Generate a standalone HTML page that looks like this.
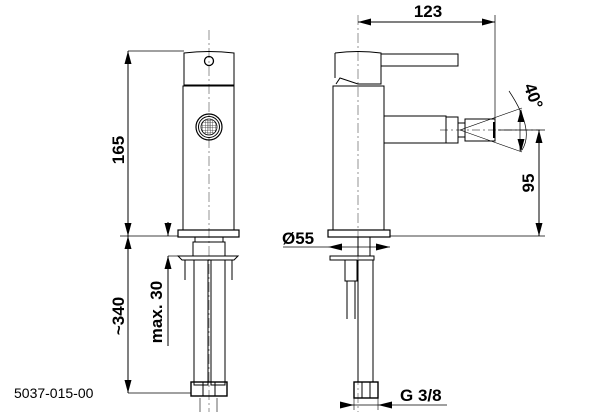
<!DOCTYPE html>
<html><head><meta charset="utf-8"><style>html,body{margin:0;padding:0;background:#fff}svg{display:block}</style></head>
<body>
<svg width="614" height="415" viewBox="0 0 614 415" xmlns="http://www.w3.org/2000/svg" font-family="Liberation Sans, sans-serif">
<defs>
<pattern id="g" width="2.5" height="2.5" patternUnits="userSpaceOnUse"><path d="M0 0H2.5M0 0V2.5" stroke="#333" stroke-width="0.8" fill="none"/></pattern>
</defs>
<g fill="none" stroke="#000" stroke-width="1">
<!-- LEFT VIEW -->
<line x1="209" y1="30" x2="209" y2="412" stroke="#666" stroke-width="0.7" stroke-dasharray="10,3,2,3"/>
<path d="M184 53 Q209 50 234 53 V85 H184z"/>
<circle cx="209" cy="61" r="4.5" stroke-width="1.3"/>
<rect x="183" y="86" width="51" height="144"/>
<circle cx="209" cy="127" r="13" stroke-width="1.2"/>
<circle cx="209" cy="127" r="10.5" stroke-width="1"/>
<circle cx="209" cy="127" r="8" fill="url(#g)" stroke-width="0.8"/>
<rect x="178" y="230" width="61" height="7" stroke-width="1.2"/>
<rect x="195" y="237" width="28" height="5"/>
<rect x="193" y="242" width="32" height="14"/>
<path d="M178 256 h60 l-4 4 h-52z"/>
<line x1="185" y1="260" x2="185" y2="280"/><line x1="232" y1="260" x2="232" y2="280"/>
<rect x="194" y="260" width="14" height="125"/>
<rect x="211" y="260" width="14" height="125"/>
<rect x="191" y="382" width="36" height="14" stroke-width="1.4"/>
<line x1="203" y1="382" x2="203" y2="396"/><line x1="215" y1="382" x2="215" y2="396"/>
<line x1="200" y1="398" x2="200" y2="412" stroke="#666"/><line x1="217" y1="398" x2="217" y2="412" stroke="#666"/>
<!-- left dims -->
<line x1="128" y1="51" x2="184" y2="51" stroke-width="0.7"/>
<line x1="120" y1="236" x2="178" y2="236" stroke-width="0.7"/>
<line x1="128" y1="393" x2="191" y2="393" stroke-width="0.7"/>
<line x1="128" y1="51" x2="128" y2="393"/>
<line x1="168" y1="256" x2="178" y2="256" stroke-width="0.7"/>
<line x1="168" y1="222" x2="168" y2="236"/>
<line x1="168" y1="256" x2="168" y2="346"/>
<!-- RIGHT VIEW -->
<line x1="358" y1="15" x2="358" y2="412" stroke="#666" stroke-width="0.7" stroke-dasharray="10,3,2,3"/>
<path d="M335 53 Q358 50 381 53 V84 H358 L340 78 L336 84"/>
<path d="M335 53 V78"/>
<rect x="381" y="54" width="77" height="12"/>
<rect x="333" y="86" width="51" height="144"/>
<path d="M384 116 H446 V143 H384"/>
<rect x="446" y="117" width="12" height="26"/>
<rect x="458" y="123" width="7" height="14"/>
<path d="M465 119 H495 V141 H465z"/>
<line x1="494" y1="122" x2="494" y2="138" stroke-width="2"/>
<line x1="440" y1="130" x2="540" y2="130" stroke-width="0.6" stroke-dasharray="8,3,2,3"/>
<line x1="460" y1="130" x2="522" y2="108" stroke-width="0.6"/>
<line x1="460" y1="130" x2="522" y2="152" stroke-width="0.6"/>
<path d="M509 91 Q535 130 522 150" stroke-width="0.7"/>
<rect x="328" y="230" width="62" height="7" stroke-width="1.2"/>
<rect x="358" y="237" width="12" height="19"/>
<path d="M330 256 H374 V260 H330z"/>
<rect x="345" y="260" width="12" height="21"/>
<path d="M347 281 V319 M355 281 V319"/>
<rect x="358" y="260" width="15" height="122"/>
<rect x="354" y="382" width="24" height="16" stroke-width="1.4"/>
<line x1="362" y1="382" x2="362" y2="398"/><line x1="370" y1="382" x2="370" y2="398"/>
<!-- right dims -->
<line x1="495" y1="15" x2="495" y2="120" stroke-width="0.7"/>
<line x1="358" y1="22" x2="495" y2="22"/>
<line x1="498" y1="130" x2="545" y2="130" stroke-width="0.7"/>
<line x1="390" y1="236" x2="545" y2="236" stroke-width="0.7"/>
<line x1="539" y1="130" x2="539" y2="236"/>
<line x1="520" y1="110" x2="520" y2="151" stroke-width="0.7"/>
<line x1="283" y1="247" x2="390" y2="247" stroke-width="0.7"/>
<line x1="340" y1="405" x2="447" y2="405" stroke-width="0.7"/>
<line x1="354" y1="398" x2="354" y2="410" stroke-width="0.6"/><line x1="378" y1="398" x2="378" y2="410" stroke-width="0.6"/>
</g>
<g fill="#000">
<!-- 123 -->
<polygon points="358,22 371,18.5 371,25.5"/><polygon points="495,22 482,18.5 482,25.5"/>
<!-- 165 / 340 -->
<polygon points="128,51 124.5,64 131.5,64"/><polygon points="128,236 124.5,223 131.5,223"/>
<polygon points="128,236 124.5,249 131.5,249"/><polygon points="128,393 124.5,380 131.5,380"/>
<!-- max 30 -->
<polygon points="168,236 164.5,223 171.5,223"/><polygon points="168,256 164.5,269 171.5,269"/>
<!-- 95 -->
<polygon points="539,130 535.5,143 542.5,143"/><polygon points="539,236 535.5,223 542.5,223"/>
<!-- 40 -->
<polygon points="521,109 517.5,122 524.5,122"/><polygon points="521,152 517.5,139 524.5,139"/>
<!-- Ø55 -->
<polygon points="328,247 342,243.5 342,250.5"/><polygon points="390,247 376,243.5 376,250.5"/>
<!-- G3/8 -->
<polygon points="354,405 340,401.5 340,408.5"/><polygon points="378,405 392,401.5 392,408.5"/>
</g>
<g font-weight="bold" font-size="17" fill="#000">
<text x="428" y="17" text-anchor="middle">123</text>
<text x="282" y="244">Ø55</text>
<text x="400" y="401">G 3/8</text>
<text transform="translate(534,183) rotate(-90)" text-anchor="middle">95</text>
<text transform="translate(124,150) rotate(-90)" text-anchor="middle">165</text>
<text transform="translate(124,316) rotate(-90)" text-anchor="middle">~340</text>
<text transform="translate(162,312) rotate(-90)" text-anchor="middle">max. 30</text>
<text transform="translate(528,98) rotate(70)" text-anchor="middle">40°</text>
</g>
<text x="14" y="398" font-size="14" fill="#000">5037-015-00</text>
</svg>
</body></html>
